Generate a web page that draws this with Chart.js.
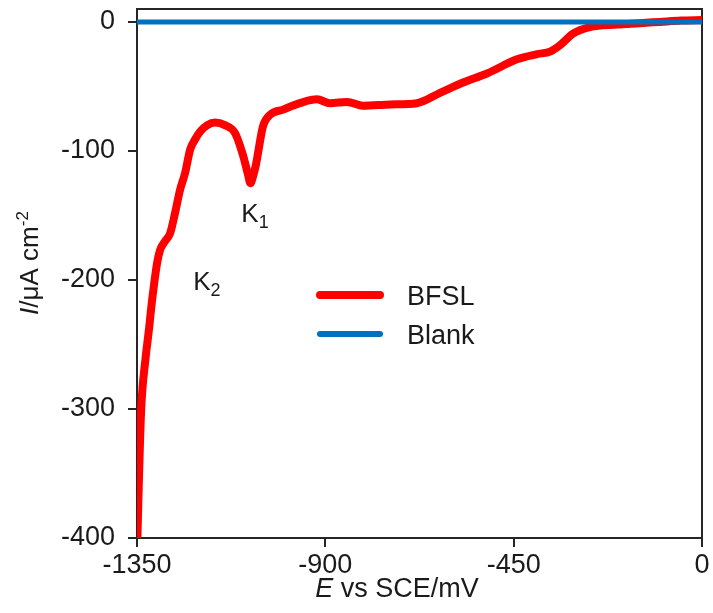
<!DOCTYPE html>
<html>
<head>
<meta charset="utf-8">
<script src="https://cdn.jsdelivr.net/npm/chart.js@4/dist/chart.umd.min.js"></script>
<style>
  html, body { margin: 0; padding: 0; background: #fff; }
  #wrap { width: 713px; height: 613px; }
</style>
</head>
<body>
<div id="wrap"><canvas id="chart" width="713" height="613"></canvas></div>
<script>
// Potentiodynamic sweep: current density vs potential, BFSL sample against blank.
const bfslE = [-1349, -1345, -1340, -1330, -1322, -1314, -1302, -1295, -1283, -1271, -1259, -1247,
  -1235, -1223, -1211, -1199, -1182, -1164, -1140, -1116, -1097, -1085, -1079, -1073, -1066, -1049,
  -1032, -1001, -961, -920, -889, -848, -810, -745, -681, -626, -571, -514, -442, -394, -363, -339,
  -308, -268, -203, -150, -100, -50, 0];
const bfslI = [-400, -350, -300, -262, -240, -216, -187, -177, -170, -164, -148, -130,
  -117, -99, -91, -85, -80, -78, -80, -86, -103, -118, -125, -120, -111, -81,
  -72, -68, -63, -60, -63, -62, -65, -64, -63, -55, -47, -40, -29, -25, -23, -18,
  -9, -4, -2, -1, 0, 1, 1.5];
const blankE = [-1350, 0];
const blankI = [0, 0];

const xTicks = [-1350, -900, -450, 0];
const yTicks = [-400, -300, -200, -100, 0];

const seriesNames = ['BFSL', 'Blank'];
const seriesColors = ['#ff0000', '#0070c0'];

// peak labels, placed in data units
const peakLabels = [
  { name: 'K', sub: '1', e: -1068, i: -148 },
  { name: 'K', sub: '2', e: -1183, i: -201 },
];

const FONT = '"Liberation Sans", Arial, sans-serif';
const AXIS = '#262626';

const toXY = (xs, ys) => xs.map((x, k) => ({ x, y: ys[k] }));

// drop the extra room Chart.js keeps for the end labels
const noEdgePad = s => {
  s.paddingTop = 0; s.paddingBottom = 0; s.paddingLeft = 0; s.paddingRight = 0;
};

// box, legend, peak labels and axis titles
const decor = {
  id: 'decor',
  beforeDatasetsDraw(chart) {
    const { ctx, chartArea: a } = chart;
    ctx.save();
    ctx.strokeStyle = AXIS;
    ctx.lineWidth = 2;
    ctx.beginPath();
    ctx.moveTo(a.left, a.top);
    ctx.lineTo(a.right, a.top);
    ctx.lineTo(a.right, a.bottom);
    ctx.stroke();
    ctx.restore();
  },
  afterDatasetsDraw(chart) {
    const { ctx, chartArea: a, scales } = chart;
    ctx.save();
    ctx.fillStyle = '#1a1a1a';
    ctx.textBaseline = 'alphabetic';

    // legend
    const lx = a.left + 183, ly = a.top + 286;
    seriesNames.forEach((name, k) => {
      const y = ly + k * 39;
      ctx.strokeStyle = seriesColors[k];
      ctx.lineWidth = k === 0 ? 8 : 6;
      ctx.lineCap = 'round';
      ctx.beginPath();
      ctx.moveTo(lx, y);
      ctx.lineTo(lx + 60, y);
      ctx.stroke();
      ctx.font = '27px ' + FONT;
      ctx.textAlign = 'left';
      ctx.fillText(name, lx + 87, y + 10);
    });

    // K1 / K2
    peakLabels.forEach(p => {
      const px = scales.x.getPixelForValue(p.e);
      const py = scales.y.getPixelForValue(p.i);
      ctx.font = '26px ' + FONT;
      const w = ctx.measureText(p.name).width;
      ctx.font = '18px ' + FONT;
      const ws = ctx.measureText(p.sub).width;
      const x0 = px - (w + ws) / 2;
      ctx.textAlign = 'left';
      ctx.font = '26px ' + FONT;
      ctx.fillText(p.name, x0, py + 9);
      ctx.font = '18px ' + FONT;
      ctx.fillText(p.sub, x0 + w, py + 15);
    });

    // x title: E vs SCE/mV
    ctx.font = 'italic 27px ' + FONT;
    const e = 'E';
    const we = ctx.measureText(e).width;
    ctx.font = '27px ' + FONT;
    const rest = ' vs SCE/mV';
    const wr = ctx.measureText(rest).width;
    const tx = a.left + 260 - (we + wr) / 2;
    const ty = chart.height - 16;
    ctx.font = 'italic 27px ' + FONT;
    ctx.fillText(e, tx, ty);
    ctx.font = '27px ' + FONT;
    ctx.fillText(rest, tx + we, ty);

    // y title: I/μA cm-2, rotated
    ctx.translate(38, a.top + 254);
    ctx.rotate(-Math.PI / 2);
    const parts = [
      { t: 'I', f: 'italic 26px ' + FONT, dy: 0 },
      { t: '/μA cm', f: '26px ' + FONT, dy: 0 },
      { t: '-2', f: '17px ' + FONT, dy: -10 },
    ];
    let total = 0;
    parts.forEach(p => { ctx.font = p.f; p.w = ctx.measureText(p.t).width; total += p.w; });
    let cx = -total / 2;
    parts.forEach(p => {
      ctx.font = p.f;
      ctx.fillText(p.t, cx, p.dy);
      cx += p.w;
    });
    ctx.restore();
  },
};

new Chart(document.getElementById('chart'), {
  type: 'scatter',
  data: {
    datasets: [
      {
        label: seriesNames[1],
        data: toXY(blankE, blankI),
        showLine: true,
        borderColor: seriesColors[1],
        borderWidth: 5,
        pointRadius: 0,
        order: 0,
      },
      {
        label: seriesNames[0],
        data: toXY(bfslE, bfslI),
        showLine: true,
        borderColor: seriesColors[0],
        borderWidth: 8,
        pointRadius: 0,
        cubicInterpolationMode: 'monotone',
        order: 1,
      },
    ],
  },
  options: {
    responsive: false,
    animation: false,
    layout: { padding: { top: 9, right: 11, left: 0, bottom: 0 } },
    plugins: { legend: { display: false }, tooltip: { enabled: false } },
    scales: {
      x: {
        type: 'linear',
        min: -1350,
        max: 0,
        afterBuildTicks: s => { s.ticks = xTicks.map(v => ({ value: v })); },
        afterFit: s => { s.height = 75; noEdgePad(s); },
        grid: { display: true, drawOnChartArea: false, drawTicks: true, tickLength: 9, color: AXIS, lineWidth: 2 },
        border: { display: true, color: AXIS, width: 2 },
        ticks: { color: '#1a1a1a', padding: 2, maxRotation: 0, font: { family: FONT, size: 27 }, callback: v => String(v) },
      },
      y: {
        type: 'linear',
        min: -400,
        max: 10,
        afterBuildTicks: s => { s.ticks = yTicks.map(v => ({ value: v })); },
        afterFit: s => { s.width = 137; noEdgePad(s); },
        grid: { display: true, drawOnChartArea: false, drawTicks: true, tickLength: 9, color: AXIS, lineWidth: 2 },
        border: { display: true, color: AXIS, width: 2 },
        ticks: { color: '#1a1a1a', padding: 13, font: { family: FONT, size: 27 }, callback: v => String(v) },
      },
    },
  },
  plugins: [decor],
});
</script>
</body>
</html>
